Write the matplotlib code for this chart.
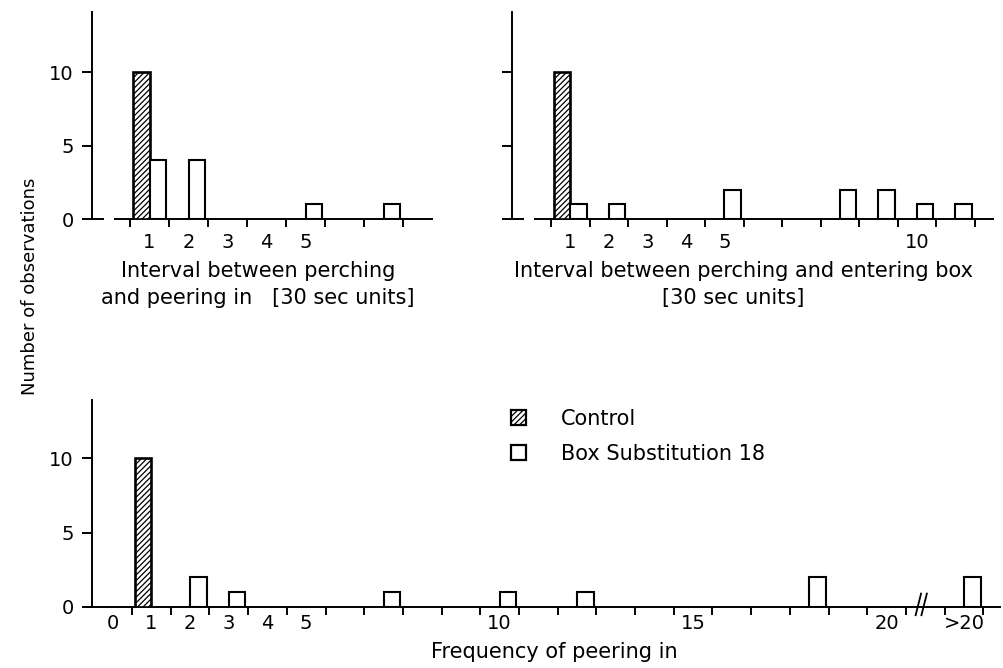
import matplotlib
matplotlib.use("Agg")
import matplotlib.pyplot as plt
from matplotlib.patches import Patch
import numpy as np

plt.rcParams["font.family"] = ["DejaVu Sans"]
plt.rcParams["hatch.linewidth"] = 0.9

# interval between perching and peering in (30 sec units)
tl_bins = [1, 2, 3, 4, 5, 6, 7]
tl_control = [10, 0, 0, 0, 0, 0, 0]
tl_box = [4, 4, 0, 0, 1, 0, 1]
tl_labels = {1: "1", 2: "2", 3: "3", 4: "4", 5: "5"}

# interval between perching and entering box (30 sec units)
tr_bins = [1, 2, 3, 4, 5, 6, 7, 8, 9, 10, 11]
tr_control = [10, 0, 0, 0, 0, 0, 0, 0, 0, 0, 0]
tr_box = [1, 1, 0, 0, 2, 0, 0, 2, 2, 1, 1]
tr_labels = {1: "1", 2: "2", 3: "3", 4: "4", 5: "5", 10: "10"}

# frequency of peering in (last bin is ">20", drawn after the axis break)
bt_bins = [0, 1, 2, 3, 4, 5, 6, 7, 8, 9, 10, 11, 12, 13, 14, 15, 16, 17, 18, 19, 20, 22]
bt_control = [0, 10, 0, 0, 0, 0, 0, 0, 0, 0, 0, 0, 0, 0, 0, 0, 0, 0, 0, 0, 0, 0]
bt_box = [0, 0, 2, 1, 0, 0, 0, 1, 0, 0, 1, 0, 1, 0, 0, 0, 0, 0, 2, 0, 0, 2]
bt_labels = {0: "0", 1: "1", 2: "2", 3: "3", 4: "4", 5: "5", 10: "10", 15: "15", 20: "20", 22: ">20"}

W, H = 1004, 668
BW = 0.43
fig = plt.figure(figsize=(W / 100, H / 100), dpi=100)


def panel(px, py, xlim, yaxis_x, ymax, bins, control, box, labels, edges,
          ylabels=True, stub=True, xpad=10):
    # px/py: pixel extents of the axes box (left, right) / (top, bottom)
    ax = fig.add_axes([px[0] / W, 1 - py[1] / H, (px[1] - px[0]) / W, (py[1] - py[0]) / H])
    bins = np.asarray(bins, dtype=float)
    control = np.asarray(control)
    box = np.asarray(box)
    m = control > 0
    ax.bar(bins[m] - BW, control[m], width=BW, align="edge", color="white",
           edgecolor="black", hatch="//////", linewidth=1.9, zorder=3)
    m = box > 0
    ax.bar(bins[m], box[m], width=BW, align="edge", color="white",
           edgecolor="black", linewidth=1.5, zorder=3)

    ax.set_xlim(*xlim)
    ax.set_ylim(0, ymax)
    for s in ("top", "right"):
        ax.spines[s].set_visible(False)
    ax.spines["left"].set_position(("data", yaxis_x))
    ax.spines["left"].set_bounds(0, ymax)
    ax.spines["bottom"].set_bounds(xlim[0] + 0.6 if stub else xlim[0], xlim[1])
    for s in ("left", "bottom"):
        ax.spines[s].set_linewidth(1.4)

    ax.set_yticks([0, 5, 10])
    ax.set_yticklabels(["0", "5", "10"] if ylabels else ["", "", ""])
    ax.tick_params(axis="y", direction="out", length=7, width=1.4, pad=6, labelsize=14)
    if stub:
        ax.plot([yaxis_x, yaxis_x + 0.28], [0, 0], color="black", lw=1.4, clip_on=False)

    ax.set_xticks(list(labels.keys()))
    ax.set_xticklabels(list(labels.values()))
    ax.set_xticks(edges, minor=True)
    ax.tick_params(axis="x", which="major", length=0, pad=xpad, labelsize=14)
    ax.tick_params(axis="x", which="minor", direction="out", length=6, width=1.4)
    ax.patch.set_alpha(0)
    return ax


tl = panel((92, 432), (12, 219), (-0.474, 8.24), -0.474, 14.1,
           tl_bins, tl_control, tl_box, tl_labels, np.arange(0.5, 8, 1.0))
tr = panel((512, 993), (12, 219), (-0.513, 11.98), -0.513, 14.1,
           tr_bins, tr_control, tr_box, tr_labels, np.arange(0.5, 12, 1.0), ylabels=False)
bt = panel((86, 1000), (400, 607), (-0.69, 22.93), -0.534, 13.9,
           bt_bins, bt_control, bt_box, bt_labels,
           list(np.arange(0.5, 21, 1.0)) + [21.5, 22.5], stub=False, xpad=5)

# axis break marks
for bx in (20.82, 20.97):
    bt.plot([bx - 0.07, bx + 0.07], [-0.55, 0.9], color="black", lw=1.3, clip_on=False, zorder=5)

fs = 15
fig.text(258 / W, 1 - 261 / H, "Interval between perching", ha="center", va="top", fontsize=fs)
fig.text(258 / W, 1 - 288 / H, "and peering in   [30 sec units]", ha="center", va="top", fontsize=fs)
fig.text(744 / W, 1 - 261 / H, "Interval between perching and entering box", ha="center", va="top", fontsize=fs)
fig.text(733 / W, 1 - 288 / H, "[30 sec units]", ha="center", va="top", fontsize=fs)
fig.text(554 / W, 1 - 642 / H, "Frequency of peering in", ha="center", va="top", fontsize=fs)
fig.text(30 / W, 1 - 286 / H, "Number of observations", ha="center", va="center",
         rotation=90, fontsize=13)

handles = [Patch(facecolor="white", edgecolor="black", hatch="//////", linewidth=1.6, label="Control"),
           Patch(facecolor="white", edgecolor="black", linewidth=1.6, label="Box Substitution 18")]
fig.legend(handles=handles, loc="upper left", bbox_to_anchor=(511 / W, 1 - 409 / H),
           frameon=False, fontsize=fs, handlelength=0.7, handleheight=0.7,
           handletextpad=1.7, labelspacing=0.7, borderpad=0, borderaxespad=0)

fig.savefig("out.png", dpi=100)
